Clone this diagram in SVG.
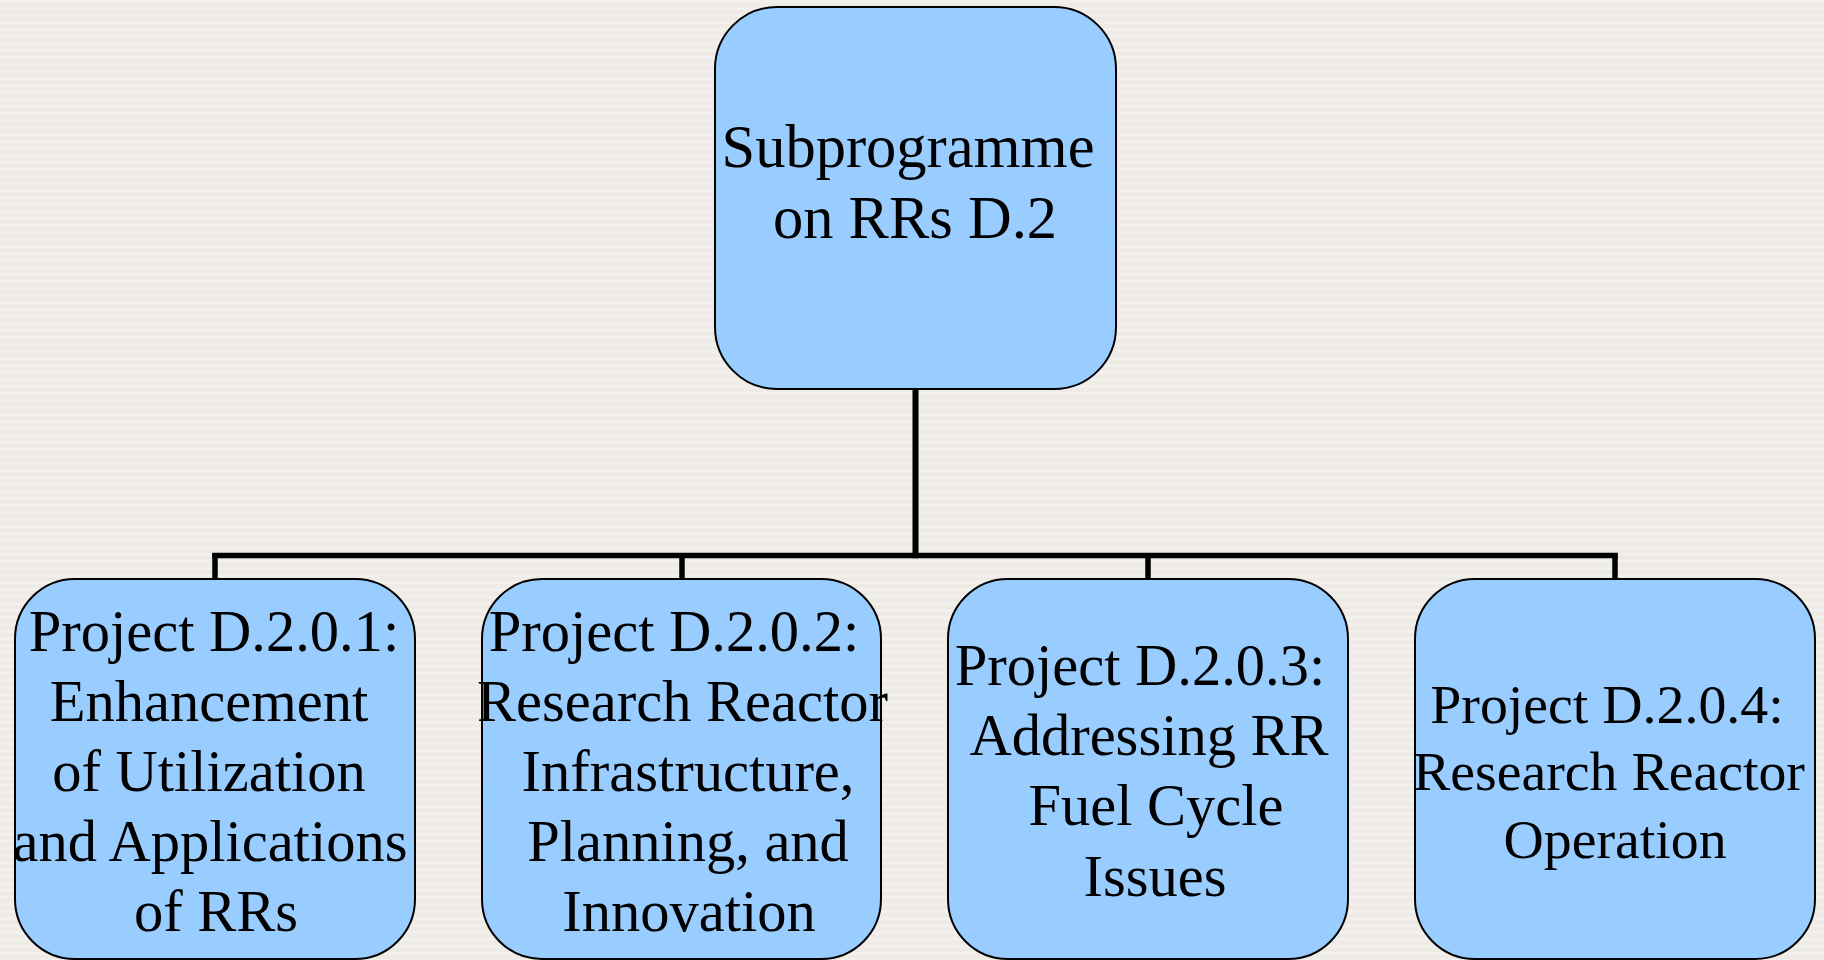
<svg xmlns="http://www.w3.org/2000/svg" width="1824" height="960" viewBox="0 0 1824 960">
  <defs>
    <!-- faint horizontal ribbing on the backdrop -->
    <pattern id="ribs" width="40" height="7" patternUnits="userSpaceOnUse">
      <rect width="40" height="7" fill="#EEEBE6"/>
      <rect y="0" width="40" height="3" fill="#F2F0EC"/>
    </pattern>
  </defs>
  <style>
    .box { fill: #99CCFF; stroke: #000; stroke-width: 2; }
    .lbl { font-family: "Liberation Serif", "Times New Roman", serif; fill: #000; text-anchor: middle; }
    .top { font-size: 60.5px; }
    .sub { font-size: 58.5px; }
    .sub4 { font-size: 55.8px; }
    .wire { fill: none; stroke: #000; stroke-width: 5.5; stroke-linecap: butt; stroke-linejoin: miter; }
  </style>

  <rect width="1824" height="960" fill="url(#ribs)"/>

  <!-- tree connectors -->
  <g id="connectors">
    <path class="wire" d="M915.5 388 V558.3" style="stroke-width:6"/>
    <path class="wire" d="M212.3 555.5 H1617.8"/>
    <path class="wire" d="M215 553 V580"/>
    <path class="wire" d="M682 553 V580"/>
    <path class="wire" d="M1148 553 V580"/>
    <path class="wire" d="M1615 553 V580"/>
  </g>

  <g id="subprogramme">
    <rect class="box" x="715" y="7" width="401" height="382" rx="62" ry="62"/>
    <text class="lbl top" x="908" y="167">Subprogramme</text>
    <text class="lbl top" x="915" y="238">on RRs D.2</text>
  </g>

  <g id="project-d201">
    <rect class="box" x="15" y="579" width="400" height="380" rx="60" ry="60"/>
    <text class="lbl sub" x="214" y="651">Project D.2.0.1:</text>
    <text class="lbl sub" x="209" y="721">Enhancement</text>
    <text class="lbl sub" x="209" y="791">of Utilization</text>
    <text class="lbl sub" x="210" y="861">and Applications</text>
    <text class="lbl sub" x="216" y="931">of RRs</text>
  </g>

  <g id="project-d202">
    <rect class="box" x="482" y="579" width="399" height="380" rx="60" ry="60"/>
    <text class="lbl sub" x="674" y="651">Project D.2.0.2:</text>
    <text class="lbl sub" x="682.5" y="721">Research Reactor</text>
    <text class="lbl sub" x="688" y="791">Infrastructure,</text>
    <text class="lbl sub" x="688" y="861">Planning, and</text>
    <text class="lbl sub" x="689" y="931">Innovation</text>
  </g>

  <g id="project-d203">
    <rect class="box" x="948" y="579" width="400" height="380" rx="60" ry="60"/>
    <text class="lbl sub" x="1140" y="685">Project D.2.0.3:</text>
    <text class="lbl sub" x="1149" y="755">Addressing RR</text>
    <text class="lbl sub" x="1156" y="825">Fuel Cycle</text>
    <text class="lbl sub" x="1155" y="896">Issues</text>
  </g>

  <g id="project-d204">
    <rect class="box" x="1415" y="579" width="400" height="380" rx="60" ry="60"/>
    <text class="lbl sub4" x="1607" y="723">Project D.2.0.4:</text>
    <text class="lbl sub4" x="1609" y="790">Research Reactor</text>
    <text class="lbl sub4" x="1615" y="858">Operation</text>
  </g>
</svg>
